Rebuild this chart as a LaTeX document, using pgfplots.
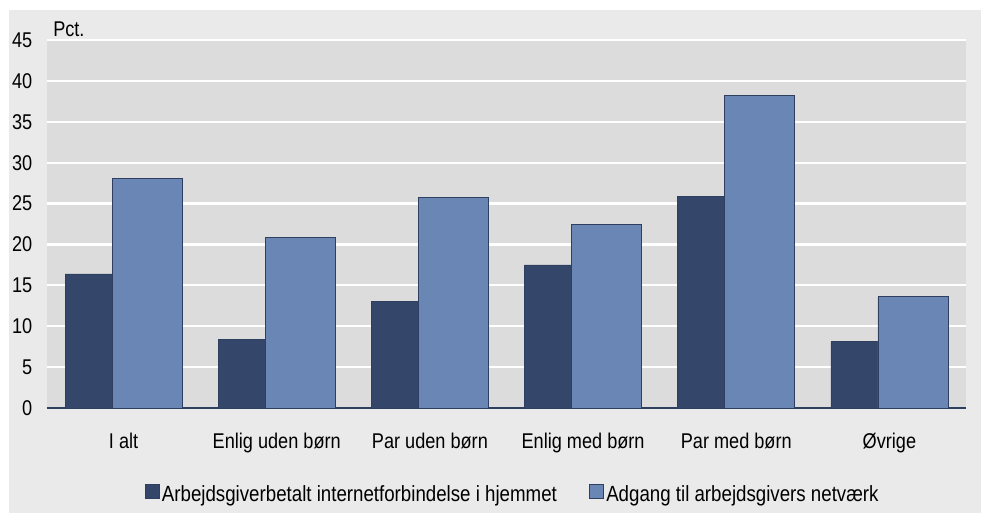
\documentclass[border=0pt]{standalone}
\usepackage{pgfplots}
\pgfplotsset{compat=1.18}
\usepackage{fontspec}
\setmainfont{Liberation Sans}[FakeStretch=0.85]
\definecolor{outerbg}{HTML}{EAEAEA}
\definecolor{plotbg}{HTML}{DCDCDC}
\definecolor{darkbar}{HTML}{34466A}
\definecolor{lightbar}{HTML}{6A86B5}
\definecolor{edgec}{HTML}{2F3F5F}
\begin{document}
\begin{tikzpicture}
\path[fill=white] (0pt,0pt) rectangle (735.75pt,384.75pt);
\path[fill=outerbg] (6.75pt,0pt) rectangle (735.75pt,377.25pt);
\begin{axis}[
  at={(35.25pt,78.75pt)}, anchor=south west,
  scale only axis, width=689.25pt, height=276pt,
  xmin=-0.5, xmax=5.5, ymin=0, ymax=45,
  ytick={0,5,...,45},
  xtick={0,1,2,3,4,5},
  xticklabels={I alt,Enlig uden børn,Par uden børn,Enlig med børn,Par med børn,Øvrige},
  major tick length=0pt,
  /pgf/number format/assume math mode=true,
  tick label style={font=\fontsize{16}{19}\selectfont, text=black},
  yticklabel style={anchor=east, xshift=-7.5pt},
  xticklabel style={anchor=north, yshift=-15.5pt},
  ymajorgrids, grid style={white, line width=1.6pt},
  axis background/.style={fill=plotbg},
  separate axis lines,
  axis x line*=bottom,
  x axis line style={draw=edgec, line width=0.8pt, -},
  y axis line style={draw=none},
  legend style={at={(0.507,-0.234)}, anchor=center, draw=none, fill=none,
    font=\fontsize{16.5}{19}\selectfont, legend columns=2,
    /tikz/every even column/.append style={column sep=22pt}},
  legend image code/.code={\draw[#1] (-2pt,-3.5pt) rectangle (8.5pt,7pt);},
  clip=false,
]
\addplot[ybar, bar width=0.457, bar shift=-0.153, fill=darkbar, draw=edgec, line width=0.5pt]
  coordinates {(0,16.4) (1,8.4) (2,13.0) (3,17.5) (4,25.9) (5,8.1)};
\addlegendentry{Arbejdsgiverbetalt internetforbindelse i hjemmet}
\addplot[ybar, bar width=0.457, bar shift=0.153, fill=lightbar, draw=edgec, line width=0.5pt]
  coordinates {(0,28.1) (1,20.9) (2,25.8) (3,22.4) (4,38.2) (5,13.6)};
\addlegendentry{Adgang til arbejdsgivers netværk}
\node[anchor=base west, font=\fontsize{16}{19}\selectfont, inner sep=0pt] at (rel axis cs:0,1) [xshift=4.5pt, yshift=2.5pt] {Pct.};
\end{axis}
\end{tikzpicture}
\end{document}
